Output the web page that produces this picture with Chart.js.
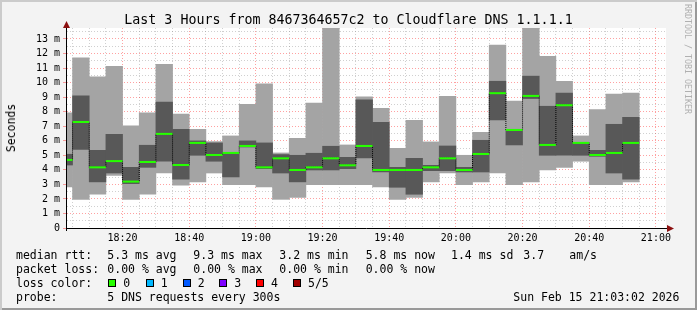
<!DOCTYPE html>
<html>
<head>
<meta charset="utf-8">
<script src="https://cdn.jsdelivr.net/npm/chart.js@4.4.1/dist/chart.umd.min.js"></script>
<style>
  body { margin: 0; }
  #frame {
    position: relative; width: 697px; height: 310px; overflow: hidden;
    background: #f3f3f3;
    box-shadow: inset 2px 2px 0 #cbcbcb, inset -2px -2px 0 #999;
    font-family: "DejaVu Sans Mono", monospace; color: #000;
  }
  #frame canvas { position: absolute; left: 0; top: 0; }
  .txt { position: absolute; white-space: pre; font-size: 11.5px; line-height: 14px; }
  #title { position: absolute; left: 0; top: 12px; width: 697px; text-align: center; font-size: 13.3px; line-height: 16px; white-space: pre; }
  #ylabel { position: absolute; left: 10.5px; top: 127.5px; font-size: 11.5px; line-height: 14px; transform: translate(-50%, -50%) rotate(-90deg); }
  #mark { position: absolute; left: 684px; top: 4px; writing-mode: vertical-rl; font-size: 8.3px; line-height: 8px; color: #b0b0b0; white-space: pre; }
  .sq { position: absolute; width: 6px; height: 6px; border: 1px solid #000; top: 279px; }
</style>
</head>
<body>
<div id="frame">
  <canvas id="smoke" width="697" height="310"></canvas>
  <div id="title">Last 3 Hours from 8467364657c2 to Cloudflare DNS 1.1.1.1</div>
  <div id="ylabel">Seconds</div>
  <div id="mark">RRDTOOL / TOBI OETIKER</div>

  <div class="txt" style="left:16px;top:247.5px">median rtt:</div>
  <div class="txt" style="left:107.3px;top:247.5px">5.3 ms avg</div>
  <div class="txt" style="left:193.3px;top:247.5px">9.3 ms max</div>
  <div class="txt" style="left:279.3px;top:247.5px">3.2 ms min</div>
  <div class="txt" style="left:365.7px;top:247.5px">5.8 ms now</div>
  <div class="txt" style="left:451px;top:247.5px">1.4 ms sd</div>
  <div class="txt" style="left:523.3px;top:247.5px">3.7</div>
  <div class="txt" style="left:569.3px;top:247.5px">am/s</div>

  <div class="txt" style="left:16px;top:261.5px">packet loss:</div>
  <div class="txt" style="left:107.3px;top:261.5px">0.00 % avg</div>
  <div class="txt" style="left:193.3px;top:261.5px">0.00 % max</div>
  <div class="txt" style="left:279.3px;top:261.5px">0.00 % min</div>
  <div class="txt" style="left:365.7px;top:261.5px">0.00 % now</div>

  <div class="txt" style="left:16px;top:275.5px">loss color:</div>
  <div id="lossLegend"></div>

  <div class="txt" style="left:16px;top:289.5px">probe:</div>
  <div class="txt" style="left:107.3px;top:289.5px">5 DNS requests every 300s</div>
  <div class="txt" style="left:513.3px;top:289.5px">Sun Feb 15 21:03:02 2026</div>
</div>
<script>
// 5 minute slots, start time of each
const slotTimes = ["18:00", "18:05", "18:10", "18:15", "18:20", "18:25", "18:30", "18:35", "18:40", "18:45",
    "18:50", "18:55", "19:00", "19:05", "19:10", "19:15", "19:20", "19:25", "19:30", "19:35",
    "19:40", "19:45", "19:50", "19:55", "20:00", "20:05", "20:10", "20:15", "20:20", "20:25",
    "20:30", "20:35", "20:40", "20:45", "20:50"];
const slotLength = 5;

// rtt in ms: smallest ping, 2nd, median, 4th, largest
const pingMin = [2.82, 1.97, 2.32, 3.62, 1.97, 2.32, 3.78, 2.94, 3.17, 3.78, 2.98, 2.98, 2.82, 1.97, 2.11, 2.98, 2.98, 2.98,
    2.98, 2.82, 1.97, 2.11, 3.17, 3.78, 2.98, 3.17, 3.78, 2.98, 3.17, 3.99, 4.17, 4.59, 2.98, 2.98, 3.17];
const pingLow = [4.33, 5.41, 3.17, 3.78, 3.05, 4.17, 4.59, 3.35, 5.0, 4.59, 3.51, 5.57, 4.08, 3.78, 3.17, 3.99, 3.99, 4.08,
    4.82, 3.85, 2.8, 2.32, 3.94, 3.94, 3.85, 3.85, 7.43, 5.71, 8.9, 5.0, 5.0, 5.0, 4.93, 3.78, 3.35];
const medianRtt = [4.68, 7.29, 4.17, 4.6, 3.19, 4.54, 6.47, 4.33, 5.85, 5.02, 5.16, 5.64, 4.17, 4.79, 3.99, 4.17, 4.79, 4.31,
    5.64, 3.99, 3.99, 3.99, 4.17, 4.79, 3.99, 5.09, 9.27, 6.74, 9.08, 5.71, 8.44, 5.85, 5.02, 5.16, 5.85];
const pingHigh = [5.07, 9.08, 5.34, 6.44, 4.17, 5.69, 8.65, 6.79, 5.99, 5.85, 5.18, 5.99, 5.85, 5.05, 5.0, 5.14, 5.62, 4.86,
    8.81, 7.27, 4.17, 4.79, 4.31, 5.64, 4.17, 6.03, 10.09, 6.77, 10.44, 8.37, 9.27, 5.85, 5.34, 7.13, 7.61];
const pingMax = [7.91, 11.7, 10.39, 11.12, 7.02, 7.91, 11.26, 7.84, 6.79, 5.94, 6.33, 8.51, 9.91, 5.16, 6.17, 8.58, 14.2, 5.71,
    9.01, 8.23, 5.48, 7.41, 5.92, 9.06, 5.0, 6.58, 12.57, 8.72, 14.2, 11.81, 10.09, 6.33, 8.14, 9.2, 9.27];

const timeLabels = ["18:20", "18:40", "19:00", "19:20", "19:40", "20:00", "20:20", "20:40", "21:00"];
const windowStart = "18:03:02";
const windowEnd = "21:03:02";
const yMax = 13.75;

const lossLabels = ["0", "1", "2", "3", "4", "5/5"];
const lossColors = ["#26ff00", "#00b8ff", "#0059ff", "#7e00ff", "#ff0000", "#a00000"];

// loss colour legend
const lossX = [108.3, 145.7, 182.7, 219.3, 256, 293];
const lossLegend = document.getElementById("lossLegend");
lossLabels.forEach((lbl, i) => {
    const sq = document.createElement("div");
    sq.className = "sq";
    sq.style.left = lossX[i] + "px";
    sq.style.background = lossColors[i];
    lossLegend.appendChild(sq);
    const t = document.createElement("div");
    t.className = "txt";
    t.style.left = (lossX[i] + 15) + "px";
    t.style.top = "275.5px";
    t.textContent = lbl;
    lossLegend.appendChild(t);
});

const toMinutes = (t) => {
    const p = t.split(":").map(Number);
    return p[0] * 60 + p[1] + (p[2] || 0) / 60;
};
const fmtTime = (v) => {
    const h = Math.floor(v / 60), m = Math.round(v % 60);
    return String(h).padStart(2, "0") + ":" + String(m).padStart(2, "0");
};

const slotStart = slotTimes.map(toMinutes);
const slotMid = slotStart.map((m) => m + slotLength / 2);

const MGRID = "rgba(255, 0, 0, 0.37)";
const GRID = "rgba(128, 128, 128, 0.37)";
const axisFont = { family: "DejaVu Sans Mono", size: 10 };

const plotFrame = {
    id: "plotFrame",
    beforeDraw(chart) {
        const { ctx, chartArea: a } = chart;
        ctx.save();
        ctx.fillStyle = "#ffffff";
        ctx.fillRect(a.left, a.top, a.right - a.left, a.bottom - a.top);
        ctx.restore();
    },
    afterDraw(chart) {
        const { ctx, chartArea: a } = chart;
        ctx.save();
        ctx.strokeStyle = "#000";
        ctx.lineWidth = 1;
        ctx.beginPath();
        ctx.moveTo(a.right, a.bottom + 0.5);
        ctx.lineTo(a.right + 2, a.bottom + 0.5);
        ctx.moveTo(a.left + 0.5, a.top);
        ctx.lineTo(a.left + 0.5, a.top - 2);
        ctx.moveTo(a.left + 0.5, a.bottom);
        ctx.lineTo(a.left + 0.5, a.bottom + 3);
        ctx.stroke();
        ctx.fillStyle = "#8c1010";
        ctx.beginPath();
        ctx.moveTo(a.right + 1, a.bottom - 3);
        ctx.lineTo(a.right + 8, a.bottom + 0.5);
        ctx.lineTo(a.right + 1, a.bottom + 4);
        ctx.closePath();
        ctx.fill();
        ctx.beginPath();
        ctx.moveTo(a.left - 3, a.top);
        ctx.lineTo(a.left + 0.5, a.top - 7);
        ctx.lineTo(a.left + 4, a.top);
        ctx.closePath();
        ctx.fill();
        ctx.restore();
    },
};

const smoke = document.getElementById("smoke");
const smokeChart = new Chart(smoke, {
    type: "bar",
    data: {
        datasets: [
            {
                label: "median rtt",
                data: slotMid.map((x, i) => ({ x, y: [medianRtt[i] - 0.07, medianRtt[i] + 0.07] })),
                backgroundColor: lossColors[0],
                inflateAmount: 0,
                order: 0,
            },
            {
                type: "line",
                label: "median step",
                data: slotStart.map((x, i) => ({ x, y: medianRtt[i] })),
                stepped: "before",
                borderColor: "#000",
                borderWidth: 1,
                borderDash: [1, 1],
                pointRadius: 0,
                fill: false,
                order: 1,
            },
            {
                label: "ping 2-4",
                data: slotMid.map((x, i) => ({ x, y: [pingLow[i], pingHigh[i]] })),
                backgroundColor: "#585858",
                order: 2,
            },
            {
                label: "ping 1-5",
                data: slotMid.map((x, i) => ({ x, y: [pingMin[i], pingMax[i]] })),
                backgroundColor: "#a4a4a4",
                order: 3,
            },
        ],
    },
    options: {
        responsive: false,
        animation: false,
        devicePixelRatio: 1,
        datasets: {
            bar: {
                grouped: false,
                barPercentage: 1,
                categoryPercentage: 1,
                borderWidth: 0,
            },
        },
        layout: {
            padding: { left: 0, right: 31, top: 28, bottom: 62 },
        },
        plugins: {
            legend: { display: false },
            tooltip: { enabled: false },
        },
        scales: {
            x: {
                type: "linear",
                min: toMinutes(windowStart),
                max: toMinutes(windowEnd),
                offset: false,
                grid: {
                    offset: false,
                    drawTicks: false,
                    color: (c) => (c.tick && Math.round(c.tick.value) % 20 === 0 ? MGRID : GRID),
                },
                border: { color: "#000", width: 1, dash: [1, 2], z: 1 },
                afterBuildTicks: (s) => {
                    // one tick every 5 minutes on whole clock minutes
                    const ticks = [];
                    for (let v = Math.ceil(s.min / slotLength) * slotLength; v <= s.max; v += slotLength) {
                        ticks.push({ value: v });
                    }
                    s.ticks = ticks;
                },
                ticks: {
                    autoSkip: false,
                    maxRotation: 0,
                    padding: 4,
                    color: "#000",
                    font: axisFont,
                    callback: (v) => {
                        const s = fmtTime(v);
                        return timeLabels.includes(s) ? s : "";
                    },
                },
                afterFit: (s) => {
                    s.height = 20;
                },
            },
            y: {
                min: 0,
                max: yMax,
                grid: {
                    drawTicks: true,
                    tickLength: 3,
                    color: (c) => (c.tick && Number.isInteger(c.tick.value) ? MGRID : GRID),
                    tickColor: (c) => (c.tick && Number.isInteger(c.tick.value) ? MGRID : "rgba(0,0,0,0)"),
                    tickBorderDash: [],
                },
                border: { color: "#000", width: 1, dash: [1, 2], z: 1 },
                ticks: {
                    stepSize: 0.5,
                    includeBounds: false,
                    autoSkip: false,
                    padding: 3,
                    color: "#000",
                    font: axisFont,
                    callback: (v) => (Number.isInteger(v) ? (v === 0 ? "0" : v + " m") : ""),
                },
                afterFit: (s) => {
                    s.width = 66;
                },
            },
        },
    },
    plugins: [plotFrame],
});
</script>
</body>
</html>
